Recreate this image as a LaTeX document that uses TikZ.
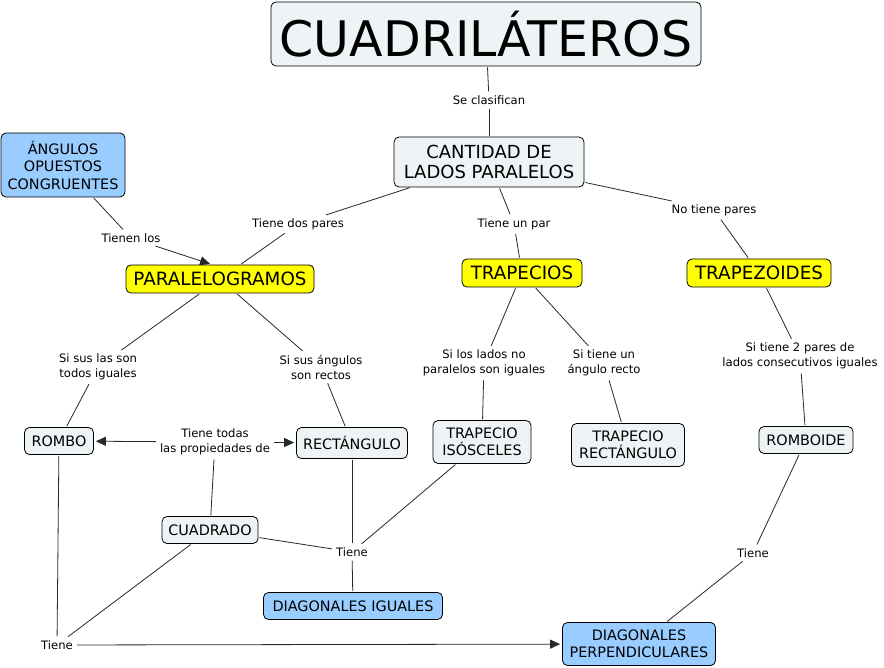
\documentclass[tikz,border=0pt]{standalone}
\usepackage{fontspec}
\setmainfont{DejaVu Sans}
\usetikzlibrary{arrows.meta}
\definecolor{boxfill}{RGB}{238,244,246}
\definecolor{bluefill}{RGB}{153,204,255}
\definecolor{yelfill}{RGB}{255,255,0}
\definecolor{linecol}{RGB}{40,40,40}
\begin{document}
\begin{tikzpicture}[x=1pt,y=-1pt,
  box/.style={draw=black, line width=0.8pt, rounded corners=5pt, fill=boxfill,
    align=center, inner sep=0pt, font=\fontsize{14.4}{17.5}\selectfont},
  bluebox/.style={box, fill=bluefill},
  yelbox/.style={box, fill=yelfill, font=\fontsize{18.3}{21}\selectfont},
  lab/.style={align=center, inner sep=3pt, font=\fontsize{11.6}{15}\selectfont},
  conn/.style={draw=linecol, line width=0.8pt, shorten <=1pt, shorten >=1pt},
  arr/.style={conn, -{Triangle[length=10pt,width=9pt]}, shorten >=2pt}
]
\fill[white] (0,0) rectangle (884,668);
\useasboundingbox (0,0) rectangle (884,668);

% main nodes
\node[box, minimum width=430pt, minimum height=64pt, font=\fontsize{49}{56}\selectfont] (cuad) at (486,34) {CUADRILÁTEROS};
\node[box, minimum width=190pt, minimum height=50pt, font=\fontsize{18}{20.5}\selectfont] (cant) at (489,162) {CANTIDAD DE\\LADOS PARALELOS};
\node[bluebox, minimum width=124pt, minimum height=64pt] (ang) at (63,165) {ÁNGULOS\\OPUESTOS\\CONGRUENTES};
\node[yelbox, minimum width=188pt, minimum height=28pt] (paral) at (220,279) {PARALELOGRAMOS};
\node[yelbox, minimum width=120pt, minimum height=28pt] (trap) at (522,273) {TRAPECIOS};
\node[yelbox, minimum width=144pt, minimum height=28pt] (trapz) at (759,273) {TRAPEZOIDES};
\node[box, minimum width=69pt, minimum height=27pt] (rombo) at (59,441) {ROMBO};
\node[box, minimum width=111pt, minimum height=31pt] (rect) at (352,443) {RECTÁNGULO};
\node[box, minimum width=98pt, minimum height=43pt] (tiso) at (482,442) {TRAPECIO\\ISÓSCELES};
\node[box, minimum width=113pt, minimum height=43pt] (trect) at (628,445) {TRAPECIO\\RECTÁNGULO};
\node[box, minimum width=94pt, minimum height=27pt] (romboide) at (806,440) {ROMBOIDE};
\node[box, minimum width=96pt, minimum height=27pt] (cuadrado) at (210,530) {CUADRADO};
\node[bluebox, minimum width=179pt, minimum height=27pt] (diagig) at (353,606) {DIAGONALES IGUALES};
\node[bluebox, minimum width=153pt, minimum height=43pt] (diagper) at (639,644) {DIAGONALES\\PERPENDICULARES};

% labels
\node[lab] (lclas) at (489,100) {Se clasifican};
\node[lab] (ldos) at (298,224) {Tiene dos pares};
\node[lab] (lun) at (514,224) {Tiene un par};
\node[lab] (lno) at (714,210) {No tiene pares};
\node[lab] (llos) at (131,238) {Tienen los};
\node[lab] (lrombo) at (98,367) {Si sus las son\\ todos iguales};
\node[lab] (lrect) at (321,367) {Si sus ángulos\\son rectos};
\node[lab] (liso) at (484,363) {Si los lados no\\paralelos son iguales};
\node[lab] (ltrect) at (604,363) {Si tiene un\\ángulo recto};
\node[lab] (lromboide) at (800,356) {Si tiene 2 pares de\\lados consecutivos iguales};
\node[lab] (ltodas) at (215,442) {Tiene todas\\las propiedades de};
\node[lab] (ltig) at (352,552) {Tiene};
\node[lab] (ltper) at (57,645) {Tiene};
\node[lab] (ltrd) at (753,553) {Tiene};

% connectors
\draw[conn] (cuad) -- (lclas);
\draw[conn] (lclas) -- (cant);
\draw[conn] (cant) -- (ldos);
\draw[conn] (ldos) -- (paral);
\draw[conn] (cant) -- (lun);
\draw[conn] (lun) -- (trap);
\draw[conn] (cant) -- (lno);
\draw[conn] (lno) -- (trapz);
\draw[conn] (ang) -- (llos);
\draw[arr] (llos) -- ([xshift=-8pt]paral.north);
\draw[conn] (paral) -- (lrombo);
\draw[conn] (lrombo) -- (rombo);
\draw[conn] (paral) -- (lrect);
\draw[conn] (lrect) -- (rect);
\draw[conn] (trap) -- (liso);
\draw[conn] (liso) -- (tiso);
\draw[conn] (trap) -- (ltrect);
\draw[conn] (ltrect) -- (trect);
\draw[conn] (trapz) -- (lromboide);
\draw[conn] (lromboide) -- (romboide);
\draw[conn] (cuadrado) -- (ltodas);
\draw[arr] (ltodas) -- (rombo);
\draw[arr] (ltodas) -- (rect);
\draw[conn] (rect) -- (ltig);
\draw[conn] (cuadrado) -- (ltig);
\draw[conn] (tiso) -- (ltig);
\draw[conn] (ltig) -- (diagig);
\draw[conn] (rombo) -- (ltper);
\draw[conn] (cuadrado) -- (ltper);
\draw[arr] (ltper) -- (diagper);
\draw[conn] (romboide) -- (ltrd);
\draw[conn] (ltrd) -- (diagper);
\end{tikzpicture}
\end{document}
